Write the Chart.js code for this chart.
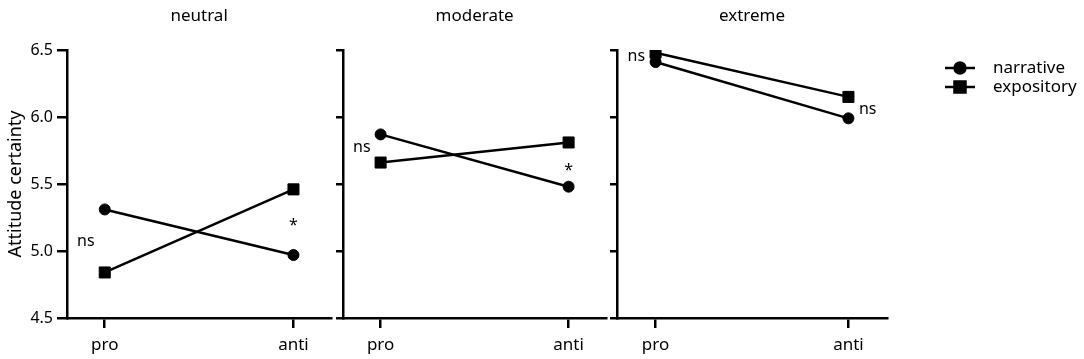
<!DOCTYPE html>
<html>
<head>
<meta charset="utf-8">
<script src="https://cdn.jsdelivr.net/npm/chart.js@4"></script>
<style>
  body { margin: 0; background: #fff; }
  #wrap { position: relative; width: 1084px; height: 359px; }
  canvas { position: absolute; top: 0; }
</style>
</head>
<body>
<div id="wrap">
  <canvas id="c0"></canvas>
  <canvas id="c1"></canvas>
  <canvas id="c2"></canvas>
</div>
<script>
// data
const panels = ['neutral', 'moderate', 'extreme'];
const categories = ['pro', 'anti'];
const seriesNames = ['narrative', 'expository'];
const narrative = [[5.31, 4.97], [5.87, 5.48], [6.41, 5.99]];
const expository = [[4.84, 5.46], [5.66, 5.81], [6.48, 6.15]];
const yTicks = [4.5, 5.0, 5.5, 6.0, 6.5];
// significance notes: [text, x (category units), y (value)]
const notes = [
  [['ns', -0.1, 5.07], ['*', 1, 5.19]],
  [['ns', -0.1, 5.77], ['*', 1, 5.60]],
  [['ns', -0.1, 6.45], ['ns', 1.1, 6.06]]
];

const FONT = '"Noto Sans", "Open Sans", sans-serif';
const plotLeft = [67, 343, 617];
const plotWidth = [271, 270, 270];
const yAxisW = [67, 13, 13];

const notesPlugin = {
  id: 'notes',
  afterDatasetsDraw(chart, args, opts) {
    const ctx = chart.ctx;
    const xs = chart.scales.x, ys = chart.scales.y;
    ctx.save();
    ctx.fillStyle = '#000';
    ctx.font = '16px ' + FONT;
    ctx.textAlign = 'center';
    ctx.textBaseline = 'middle';
    opts.items.forEach(n => {
      ctx.fillText(n[0], xs.getPixelForValue(n[1]), ys.getPixelForValue(n[2]));
    });
    ctx.restore();
  }
};

const legendPlugin = {
  id: 'sideLegend',
  afterDraw(chart, args, opts) {
    if (!opts.show) return;
    const ctx = chart.ctx;
    const x0 = chart.chartArea.right + 58;
    const styles = ['circle', 'rect'];
    const radii = [5.5, 7.8];
    ctx.save();
    seriesNames.forEach((name, i) => {
      const y = 68 + i * 19;
      ctx.strokeStyle = '#000';
      ctx.lineWidth = 2.5;
      ctx.beginPath();
      ctx.moveTo(x0, y);
      ctx.lineTo(x0 + 30, y);
      ctx.stroke();
      ctx.fillStyle = '#000';
      Chart.helpers.drawPoint(ctx, { pointStyle: styles[i], radius: radii[i], borderWidth: 1 }, x0 + 15, y);
      ctx.font = '17px ' + FONT;
      ctx.textBaseline = 'middle';
      ctx.fillText(name, x0 + 48, y);
    });
    ctx.restore();
  }
};

function makePanel(i) {
  const canvas = document.getElementById('c' + i);
  const left = plotLeft[i] - yAxisW[i];
  const width = i === 2 ? 1084 - left : yAxisW[i] + plotWidth[i] + 2;
  canvas.width = width;
  canvas.height = 359;
  canvas.style.left = left + 'px';
  const rightPad = width - yAxisW[i] - plotWidth[i];

  const toPts = arr => arr.map((v, k) => ({ x: k, y: v }));

  new Chart(canvas, {
    type: 'line',
    data: {
      datasets: [
        {
          label: seriesNames[0],
          data: toPts(narrative[i]),
          borderColor: '#000',
          backgroundColor: '#000',
          borderWidth: 2.5,
          pointStyle: 'circle',
          pointRadius: 5.5,
          pointBorderWidth: 1
        },
        {
          label: seriesNames[1],
          data: toPts(expository[i]),
          borderColor: '#000',
          backgroundColor: '#000',
          borderWidth: 2.5,
          pointStyle: 'rect',
          pointRadius: 7.8,
          pointBorderWidth: 1
        }
      ]
    },
    options: {
      responsive: false,
      animation: false,
      layout: { padding: { left: 0, right: rightPad, top: 0, bottom: 0 } },
      plugins: {
        legend: { display: false },
        tooltip: { enabled: false },
        title: {
          display: true,
          text: panels[i],
          fullSize: false,
          color: '#000',
          font: { family: FONT, size: 17, weight: 'normal' },
          padding: { top: 6, bottom: 23.6 }
        },
        notes: { items: notes[i] },
        sideLegend: { show: i === 2 }
      },
      scales: {
        x: {
          type: 'linear',
          min: -0.2,
          max: 1.2,
          afterBuildTicks: s => { s.ticks = categories.map((c, k) => ({ value: k })); },
          afterFit: s => { s.height = 41; },
          ticks: {
            callback: v => categories[v],
            color: '#000',
            font: { family: FONT, size: 17 },
            padding: 7,
            maxRotation: 0
          },
          grid: { display: true, drawOnChartArea: false, drawTicks: true, tickLength: 10, color: '#000', lineWidth: 2.5 },
          border: { display: true, color: '#000', width: 2.5 }
        },
        y: {
          min: 4.5,
          max: 6.5,
          afterBuildTicks: s => { s.ticks = yTicks.map(v => ({ value: v })); },
          afterFit: s => { s.width = yAxisW[i]; },
          ticks: {
            display: i === 0,
            callback: v => v.toFixed(1),
            color: '#000',
            font: { family: FONT, size: 16 },
            padding: 4
          },
          title: {
            display: i === 0,
            text: 'Attitude certainty',
            color: '#000',
            font: { family: FONT, size: 18 },
            padding: { top: 5, bottom: 0 }
          },
          grid: { display: true, drawOnChartArea: false, drawTicks: true, tickLength: i === 0 ? 10 : 7, color: '#000', lineWidth: 2.5 },
          border: { display: true, color: '#000', width: 2.5 }
        }
      }
    },
    plugins: [notesPlugin, legendPlugin]
  });
}

panels.forEach((p, i) => makePanel(i));
</script>
</body>
</html>
